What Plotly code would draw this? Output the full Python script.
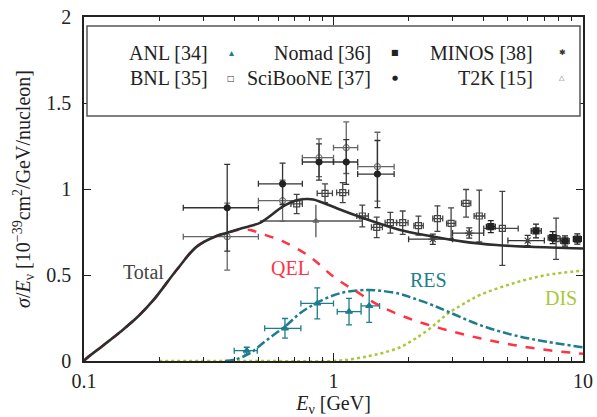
import plotly.graph_objects as go

# ---------------- data ----------------
# theory curves (E in GeV, sigma/E in 1e-39 cm^2/GeV/nucleon)
tot_E = [0.1, 0.1025, 0.12, 0.14, 0.165, 0.19, 0.235, 0.283, 0.34, 0.375, 0.42, 0.463, 0.51, 0.63, 0.71, 0.78, 0.83, 1.03, 1.32, 1.85, 2.44, 3.31, 4.5, 6.13, 10.0]
tot_y = [0.0, 0.016, 0.093, 0.17, 0.26, 0.355, 0.529, 0.665, 0.727, 0.745, 0.768, 0.785, 0.805, 0.90, 0.935, 0.942, 0.939, 0.888, 0.83, 0.762, 0.727, 0.694, 0.674, 0.664, 0.654]

qel_E = [0.1, 0.1025, 0.12, 0.14, 0.165, 0.19, 0.235, 0.283, 0.34, 0.375, 0.42, 0.463, 0.51, 0.63, 0.805, 1.0, 1.237, 1.536, 2.088, 2.843, 3.866, 5.256, 7.152, 10.0]
qel_y = [0.0, 0.016, 0.093, 0.17, 0.26, 0.355, 0.529, 0.665, 0.727, 0.745, 0.763, 0.762, 0.742, 0.694, 0.606, 0.49, 0.403, 0.32, 0.238, 0.18, 0.132, 0.093, 0.064, 0.042]

res_E = [0.367, 0.41, 0.4624, 0.54, 0.639, 0.734, 0.861, 1.062, 1.358, 1.536, 1.848, 2.088, 2.44, 2.843, 3.866, 5.256, 7.152, 10.0]
res_y = [0.0, 0.012, 0.045, 0.122, 0.2, 0.277, 0.339, 0.394, 0.413, 0.409, 0.39, 0.365, 0.33, 0.29, 0.209, 0.151, 0.112, 0.08]

dis_E = [0.2, 0.5, 1.0, 1.2, 1.4, 1.6, 1.85, 2.1, 2.44, 2.84, 3.3, 3.87, 5.26, 7.15, 10.0]
dis_y = [0.0, 0.0, 0.0, 0.012, 0.03, 0.05, 0.08, 0.125, 0.19, 0.27, 0.33, 0.384, 0.452, 0.5, 0.525]

# ANL
anl_E = [0.449, 0.639, 0.861, 1.154, 1.39]
anl_y = [0.06, 0.19, 0.335, 0.287, 0.32]
anl_Elo = [0.40, 0.53, 0.74, 1.035, 1.29]
anl_Ehi = [0.495, 0.74, 1.0, 1.29, 1.53]
anl_err = [0.02, 0.057, 0.09, 0.077, 0.095]

# BNL
bnl_E = [0.712, 0.925, 1.089, 1.305, 1.49, 1.69, 1.894, 2.19, 2.61, 2.96, 3.40, 3.84, 4.75, 7.8]
bnl_y = [0.913, 0.975, 0.979, 0.843, 0.777, 0.804, 0.804, 0.787, 0.828, 0.80, 0.917, 0.843, 0.771, 0.711]
bnl_err = [0.056, 0.055, 0.058, 0.063, 0.06, 0.06, 0.068, 0.055, 0.074, 0.09, 0.08, 0.15, 0.215, 0.12]
bnl_Elo = [0.675, 0.86, 1.03, 1.24, 1.42, 1.61, 1.79, 2.10, 2.50, 2.84, 3.26, 3.66, 4.0, 7.5]
bnl_Ehi = [0.75, 0.99, 1.15, 1.38, 1.57, 1.79, 1.99, 2.29, 2.74, 3.09, 3.55, 4.04, 5.5, 8.1]

# NOMAD
nom_E = [4.27, 6.48, 7.56, 8.47, 9.49]
nom_y = [0.781, 0.756, 0.717, 0.698, 0.709]
nom_err = [0.035, 0.04, 0.035, 0.03, 0.03]
nom_Elo = [4.1, 6.2, 7.25, 8.15, 9.15]
nom_Ehi = [4.45, 6.8, 7.85, 8.8, 9.85]

# SciBooNE (two sets)
sci_E = [0.375, 0.625, 0.875, 1.125, 1.5]
sci_Elo = [0.25, 0.5, 0.75, 1.0, 1.25]
sci_Ehi = [0.5, 0.75, 1.0, 1.25, 1.75]
sci_y = [0.891, 1.03, 1.157, 1.157, 1.087]
sci_err = [0.252, 0.12, 0.105, 0.13, 0.195]
sci2_y = [0.723, 0.932, 1.182, 1.24, 1.13]
sci2_err = [0.195, 0.12, 0.11, 0.15, 0.2]

# MINOS
min_E = [2.5, 3.5, 6.0]
min_y = [0.708, 0.744, 0.70]
min_err = [0.03, 0.03, 0.03]
min_Elo = [2.0, 3.0, 5.0]
min_Ehi = [3.0, 4.0, 7.0]

# T2K
t2k_E = [0.85]
t2k_y = [0.814]
t2k_err = [0.095]
t2k_Elo = [0.507]
t2k_Ehi = [1.31]

x_ticks = [0.1, 1, 10]
x_ticktext = ["0.1", "1", "10"]
x_minor = [0.2, 0.3, 0.4, 0.5, 0.6, 0.7, 0.8, 0.9, 2, 3, 4, 5, 6, 7, 8, 9]
y_ticks = [0, 0.5, 1, 1.5, 2]
y_ticktext = ["0", "0.5", "1", "1.5", "2"]

legend_rows = [
    [("ANL [34]", "▴", "#1e7d8c", 10), ("Nomad [36]", "■", "#222222", 8), ("MINOS [38]", "✱", "#333333", 8)],
    [("BNL [35]", "□", "#333333", 8), ("SciBooNE [37]", "●", "#222222", 7), ("T2K [15]", "△", "#666666", 7)],
]

# ---------------- styles ----------------
TEAL = "#1e7d8c"
RED = "#ff3344"
GREEN = "#a8c83a"
DARK = "#2e2e2e"
FONT = "Liberation Serif"

def errs(c, lo, hi):
    return [h - c_ for c_, h in zip(c, hi)], [c_ - l for c_, l in zip(c, lo)]

fig = go.Figure()

def add_points(E, y, yerr, Elo, Ehi, symbol, size, color, ecolor, lw=1.3, cap=3):
    plus, minus = errs(E, Elo, Ehi)
    fig.add_trace(go.Scatter(
        x=E, y=y, mode="markers",
        marker=dict(symbol=symbol, size=size, color=color, line=dict(color=color, width=1.2)),
        error_y=dict(type="data", array=yerr, color=ecolor, thickness=lw, width=cap),
        error_x=dict(type="data", array=plus, arrayminus=minus, symmetric=False, color=ecolor, thickness=lw, width=cap),
        showlegend=False, cliponaxis=True))

# data points
add_points(t2k_E, t2k_y, t2k_err, t2k_Elo, t2k_Ehi, "triangle-up-open", 5, "#666666", "#555555", cap=0)
add_points(sci_E, sci2_y, sci2_err, sci_Elo, sci_Ehi, "circle-open", 6, "#777777", "#666666")
add_points(bnl_E, bnl_y, bnl_err, bnl_Elo, bnl_Ehi, "square-open", 6, "#444444", "#444444")
add_points(min_E, min_y, min_err, min_Elo, min_Ehi, "asterisk-open", 7, "#444444", "#333333")
add_points(nom_E, nom_y, nom_err, nom_Elo, nom_Ehi, "square", 6, "#222222", "#222222")
add_points(sci_E, sci_y, sci_err, sci_Elo, sci_Ehi, "circle", 6, "#222222", "#333333")
add_points(anl_E, anl_y, anl_err, anl_Elo, anl_Ehi, "triangle-up", 6, TEAL, TEAL)

# curves
fig.add_trace(go.Scatter(x=dis_E, y=dis_y, mode="lines", line=dict(color=GREEN, width=2.5, dash="dot", shape="spline"), showlegend=False))
fig.add_trace(go.Scatter(x=res_E, y=res_y, mode="lines", line=dict(color=TEAL, width=2.5, dash="dashdot", shape="spline"), showlegend=False))
fig.add_trace(go.Scatter(x=qel_E, y=qel_y, mode="lines", line=dict(color=RED, width=2.5, dash="dash", shape="spline"), showlegend=False))
fig.add_trace(go.Scatter(x=tot_E, y=tot_y, mode="lines", line=dict(color=DARK, width=2.6, shape="spline"), showlegend=False))

# ---------------- layout ----------------
L, R, T, B = 84, 14, 17, 56
W, H = 597, 417
pw, ph = W - L - R, H - T - B

def px2paper(px, py):
    return (px - L) / pw, (H - B - py) / ph

annots = []
for text, (px, py), color in [("Total", (143, 272), "#444444"), ("QEL", (290, 268), RED),
                              ("RES", (428, 280), TEAL), ("DIS", (561, 298), GREEN)]:
    xp, yp = px2paper(px, py)
    annots.append(dict(x=xp, y=yp, xref="paper", yref="paper", text=text, showarrow=False,
                       font=dict(family=FONT, size=20, color=color), xanchor="center", yanchor="middle"))

text_right = [210, 373, 535]
sym_x = [231, 395, 562]
row_y = [53, 78]
for r, row in enumerate(legend_rows):
    for c, (label, sym, scol, ssize) in enumerate(row):
        xp, yp = px2paper(text_right[c], row_y[r])
        annots.append(dict(x=xp, y=yp, xref="paper", yref="paper", text=label, showarrow=False,
                           font=dict(family=FONT, size=20, color="#222222"), xanchor="right", yanchor="middle"))
        xs, ys = px2paper(sym_x[c], row_y[r])
        annots.append(dict(x=xs, y=ys, xref="paper", yref="paper", text=sym, showarrow=False,
                           font=dict(family="DejaVu Sans", size=ssize, color=scol), xanchor="center", yanchor="middle"))

x0, y0 = px2paper(87, 116)
x1, y1 = px2paper(580, 26)
shapes = [dict(type="rect", xref="paper", yref="paper", x0=x0, y0=y0, x1=x1, y1=y1,
               line=dict(color="#555555", width=1.5), fillcolor="white", layer="above")]

fig.update_layout(
    width=W, height=H,
    margin=dict(l=L, r=R, t=T, b=B, autoexpand=False),
    paper_bgcolor="white", plot_bgcolor="white",
    font=dict(family=FONT, size=20, color="#222222"),
    annotations=annots, shapes=shapes,
    xaxis=dict(type="log", range=[-1, 1], tickvals=x_ticks, ticktext=x_ticktext,
               ticks="inside", ticklen=8, tickwidth=1.2, tickcolor="#222222",
               minor=dict(tickvals=x_minor, ticks="inside", ticklen=4, tickwidth=1, tickcolor="#222222"),
               showline=True, linecolor="#222222", linewidth=1.5, mirror="allticks",
               showgrid=False, zeroline=False, ticklabelstandoff=1, automargin=False,
               title=dict(text="<i>E</i><sub>ν</sub> [GeV]", standoff=0, font=dict(family=FONT, size=20))),
    yaxis=dict(range=[0, 2], tickvals=y_ticks, ticktext=y_ticktext,
               ticks="inside", ticklen=7, tickwidth=1.2, tickcolor="#222222",
               showline=True, linecolor="#222222", linewidth=1.5, mirror="allticks",
               showgrid=False, zeroline=False, ticklabelstandoff=7, automargin=False,
               title=dict(text="<i>σ</i>/<i>E</i><sub>ν</sub> [10<sup>−39</sup>cm<sup>2</sup>/GeV/nucleon]", standoff=10,
                          font=dict(family=FONT, size=20))),
)

fig.write_html("out.html")
